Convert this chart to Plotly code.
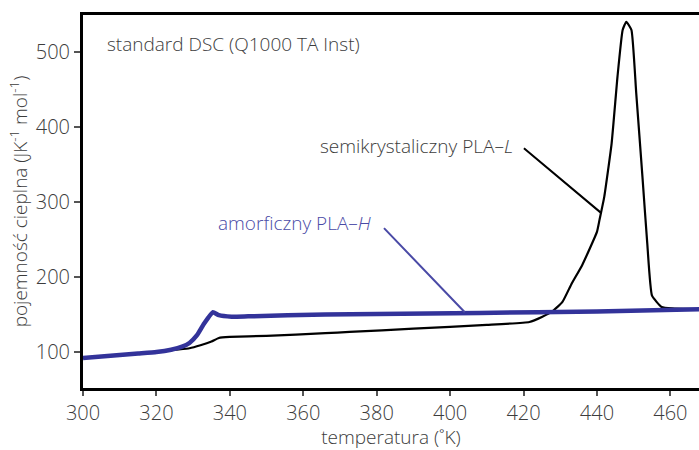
import plotly.graph_objects as go

# --- data ---
amorph_T = [300, 305, 310, 315, 320, 324, 327, 329, 331, 333, 335.4, 337, 340.5, 345, 366, 408, 440, 468]
amorph_cp = [92, 94, 96, 98, 100, 103, 107, 112, 122, 138, 153, 149, 147, 147.5, 150, 152, 154, 157]

semi_T = [300, 305, 310, 315, 320, 325, 329, 332, 335, 337, 340, 350, 366, 372.6, 390, 410, 421.6,
          425, 428, 430.6, 433, 436, 440, 440.7, 442, 444, 445.6, 447, 448, 449.4, 450.7, 452.4,
          453.7, 455, 457.6, 460.5, 468]
semi_cp = [92, 94, 96, 98, 100, 103, 105, 109, 114, 118.7, 120, 121.5, 125, 126.7, 131, 136, 140,
           146.7, 154.7, 166.7, 190, 216, 260, 276, 307, 378, 467, 529, 540, 529, 445, 333,
           245, 175, 160, 158, 157]

x_ticks = [300, 320, 340, 360, 380, 400, 420, 440, 460]
y_ticks = [100, 200, 300, 400, 500]

label_semi = "semikrystaliczny PLA–<i>L</i>"
label_amorph = "amorficzny PLA–<i>H</i>"
label_title = "standard DSC (Q1000 TA Inst)"
x_title = "temperatura (˚K)"
y_title = "pojemność cieplna (JK<sup>-1</sup> mol<sup>-1</sup>)"

# label anchors and leader-line end points (data coordinates)
semi_label_pos = (417.6, 374.7)
semi_leader = [(419.7, 373), (441.2, 285)]
amorph_label_pos = (378.9, 272)
amorph_leader = [(381.6, 267), (404, 153)]
title_pos = (306, 510.7)

TEXT = "#3c3c3c"
BLUE = "#33339a"
BLUE_TXT = "#4a4aa6"
FONT = "Open Sans"
W = 300

fig = go.Figure()
fig.add_trace(go.Scatter(x=semi_T, y=semi_cp, mode="lines",
                         line=dict(color="black", width=2.2, shape="spline", smoothing=0.4),
                         hoverinfo="skip"))
fig.add_trace(go.Scatter(x=amorph_T, y=amorph_cp, mode="lines",
                         line=dict(color=BLUE, width=4.5, shape="spline", smoothing=0.4),
                         hoverinfo="skip"))

annos = []
annos.append(dict(x=semi_leader[1][0], y=semi_leader[1][1], ax=semi_leader[0][0], ay=semi_leader[0][1],
                  axref="x", ayref="y", xref="x", yref="y", showarrow=True, arrowhead=0,
                  arrowwidth=2, arrowcolor="black", text=""))
annos.append(dict(x=amorph_leader[1][0], y=amorph_leader[1][1], ax=amorph_leader[0][0], ay=amorph_leader[0][1],
                  axref="x", ayref="y", xref="x", yref="y", showarrow=True, arrowhead=0,
                  arrowwidth=2, arrowcolor=BLUE_TXT, text=""))
annos.append(dict(x=semi_label_pos[0], y=semi_label_pos[1], xref="x", yref="y", text=label_semi,
                  showarrow=False, xanchor="right", yanchor="middle",
                  font=dict(family=FONT, size=19, color=TEXT, weight=W)))
annos.append(dict(x=amorph_label_pos[0], y=amorph_label_pos[1], xref="x", yref="y", text=label_amorph,
                  showarrow=False, xanchor="right", yanchor="middle",
                  font=dict(family=FONT, size=19, color=BLUE_TXT, weight=W)))
annos.append(dict(x=title_pos[0], y=title_pos[1], xref="x", yref="y", text=label_title,
                  showarrow=False, xanchor="left", yanchor="middle",
                  font=dict(family=FONT, size=19, color=TEXT, weight=W)))

fig.update_layout(
    width=699, height=450,
    margin=dict(l=83, r=0, t=15, b=62),
    paper_bgcolor="white", plot_bgcolor="white",
    showlegend=False,
    font=dict(family=FONT, size=19, color=TEXT, weight=W),
    annotations=annos,
    xaxis=dict(range=[300, 467.8], tickvals=x_ticks, showgrid=False, zeroline=False,
               showline=True, linecolor="black", linewidth=3, mirror=True,
               ticks="outside", ticklen=5, tickwidth=1.5, tickcolor="#555",
               tickfont=dict(family=FONT, size=20, color=TEXT, weight=W),
               title=dict(text=x_title, font=dict(family=FONT, size=19, color=TEXT, weight=W), standoff=8)),
    yaxis=dict(range=[52, 549], tickvals=y_ticks, showgrid=False, zeroline=False,
               showline=True, linecolor="black", linewidth=3, mirror=False,
               ticks="outside", ticklen=6, tickwidth=1.5, tickcolor="#555",
               tickfont=dict(family=FONT, size=20, color=TEXT, weight=W),
               title=dict(text=y_title, font=dict(family=FONT, size=19, color=TEXT, weight=W), standoff=4)),
)

fig.write_html("out.html")
